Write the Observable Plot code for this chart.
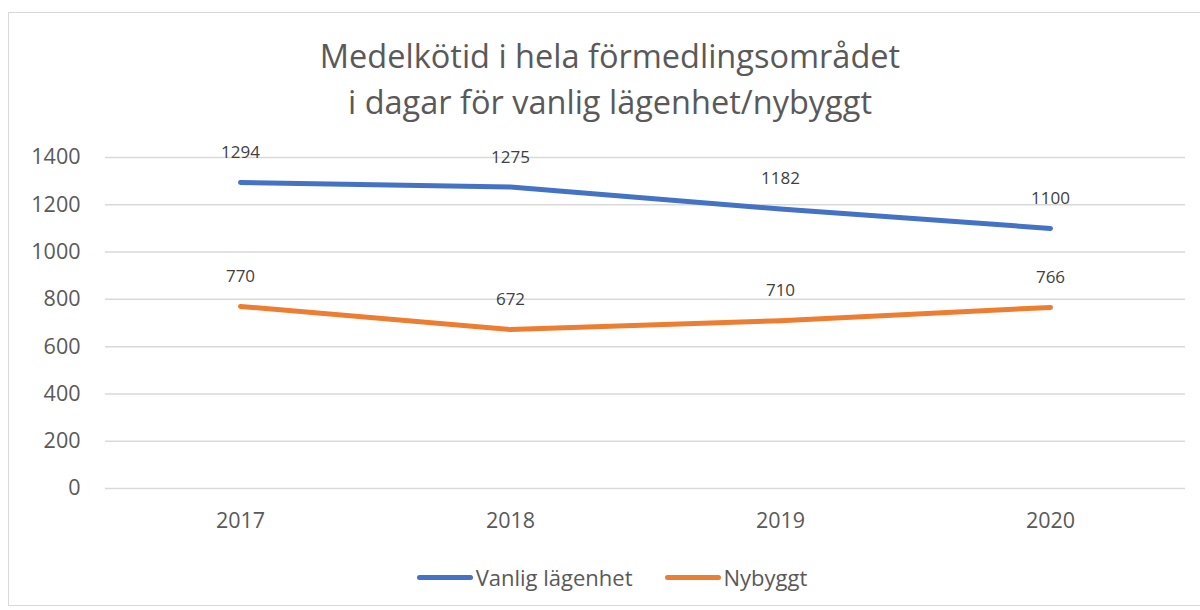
<!DOCTYPE html>
<html>
<head>
<meta charset="utf-8">
<script src="https://cdn.jsdelivr.net/npm/d3@7"></script>
<script src="https://cdn.jsdelivr.net/npm/@observablehq/plot@0.6"></script>
<style>
  html, body { margin: 0; padding: 0; background: #fff; }
  body { width: 1200px; height: 610px; position: relative; overflow: hidden; font-family: "Open Sans", sans-serif; }
  #frame { position: absolute; left: 8px; top: 12px; width: 1210px; height: 594px; border: 1.5px solid #d9d9d9; box-sizing: border-box; }
  #title { position: absolute; left: 0; top: 33px; width: 1220px; text-align: center; color: #595959; font-size: 32.5px; font-weight: 400; line-height: 46px; }
  #chart { position: absolute; left: 0; top: 140px; }
  #legend { position: absolute; left: 0; top: 562px; width: 1224px; display: flex; justify-content: center; gap: 32px; color: #595959; font-size: 22px; }
  .item { display: flex; align-items: center; gap: 3px; }
  .swatch { width: 56px; height: 5px; border-radius: 3px; }
</style>
</head>
<body>
<div id="frame"></div>
<div id="title">Medelkötid i hela förmedlingsområdet<br>i dagar för vanlig lägenhet/nybyggt</div>
<div id="chart"></div>
<div id="legend"></div>
<script>
const years = ["2017", "2018", "2019", "2020"];
const seriesNames = ["Vanlig lägenhet", "Nybyggt"];
const vanlig = [1294, 1275, 1182, 1100];
const nybyggt = [770, 672, 710, 766];
const colors = ["#4472C4", "#ED7D31"];
const yTicks = [0, 200, 400, 600, 800, 1000, 1200, 1400];

const data = [];
years.forEach((y, i) => {
  data.push({year: y, series: seriesNames[0], value: vanlig[i]});
  data.push({year: y, series: seriesNames[1], value: nybyggt[i]});
});

const plot = Plot.plot({
  width: 1200,
  height: 400,
  marginLeft: 105,
  marginRight: 15,
  marginTop: 17,
  marginBottom: 52,
  style: {fontFamily: "'Open Sans', sans-serif", background: "transparent"},
  x: {type: "band", domain: years, padding: 0, label: null},
  y: {domain: [0, 1400], label: null},
  color: {domain: seriesNames, range: colors},
  marks: [
    Plot.ruleY(yTicks, {stroke: "#d9d9d9", strokeWidth: 1.5, strokeOpacity: 1}),
    Plot.axisY(yTicks, {tickSize: 0, tickPadding: 25, fontSize: 21.5, fill: "#595959", label: null, tickFormat: d => String(d)}),
    Plot.axisX({tickSize: 0, tickPadding: 24, fontSize: 21.5, fill: "#595959", label: null}),
    Plot.line(data, {x: "year", y: "value", z: "series", stroke: "series", strokeWidth: 5, strokeLinecap: "round", strokeLinejoin: "round"}),
    Plot.text(data, {x: "year", y: "value", text: d => String(d.value), dy: -30, fontSize: 17, fill: "#404040"})
  ]
});
document.getElementById("chart").appendChild(plot);

const legend = document.getElementById("legend");
seriesNames.forEach((s, i) => {
  const item = document.createElement("div");
  item.className = "item";
  const sw = document.createElement("div");
  sw.className = "swatch";
  sw.style.background = colors[i];
  const t = document.createElement("span");
  t.textContent = s;
  item.appendChild(sw);
  item.appendChild(t);
  legend.appendChild(item);
});
</script>
</body>
</html>
